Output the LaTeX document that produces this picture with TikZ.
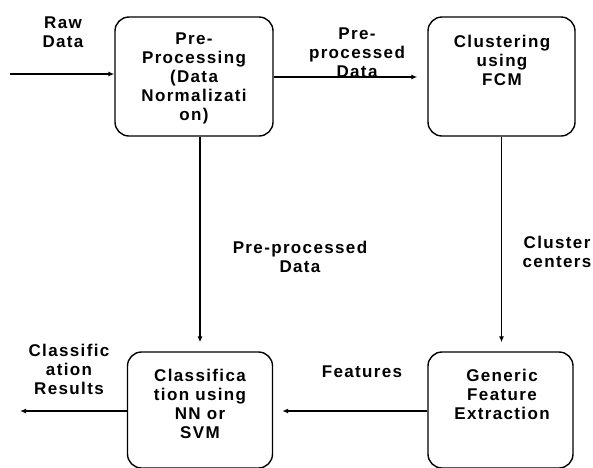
\documentclass[tikz,border=0pt]{standalone}
\usepackage{fontspec}
\setmainfont{Liberation Sans}[LetterSpace=8]
\usetikzlibrary{arrows.meta}
\begin{document}
\begin{tikzpicture}[x=1pt,y=-1pt,
  box/.style={draw,line width=1.4pt,rounded corners=14pt,inner sep=0pt},
  txt/.style={align=center,font=\fontsize{17}{19}\selectfont\bfseries,inner sep=0pt},
  conn/.style={line width=1.2pt,-{Latex[length=6pt,width=5pt]}}]
\useasboundingbox (0,0) rectangle (593,467);
% boxes
\node[box,minimum width=158pt,minimum height=119pt] (b1) at (194,76.5) {};
\node[box,minimum width=147pt,minimum height=119pt] (b2) at (501.5,76.5) {};
\node[box,minimum width=145pt,minimum height=116pt] (b3) at (200,410) {};
\node[box,minimum width=145pt,minimum height=116pt] (b4) at (500.5,410) {};
% box texts
\node[txt] (t1) at (194,78) {Pre-\\Processing\\(Data\\Normalizati\\on)};
\node[txt] (t2) at (502,60) {Clustering\\using\\FCM};
\node[txt] (t3) at (200,403.5) {Classifica\\tion using\\NN or\\SVM};
\node[txt] (t4) at (502,394.5) {Generic\\Feature\\Extraction};
% free ends
\coordinate (in) at (10,74);
\coordinate (out) at (20,411);
% connectors
\draw[conn] (in) -- (in -| b1.west);
\draw[conn,shorten >=10pt] (b1.east |- 0,77) -- (b2.west |- 0,77);
\draw[conn,shorten >=9pt] (b1.south -| b3.north) -- (b3.north);
\draw[conn,shorten >=9pt] (b2.south) -- (b2.south |- b4.north);
\draw[conn,shorten >=9pt] (b4.west |- 0,411) -- (b3.east |- 0,411);
\draw[conn] (b3.west |- 0,411) -- (out);
% labels
\node[txt] (l1) at (63,32) {Raw\\Data};
\node[txt] (l2) at (357,53) {Pre-\\processed\\Data};
\node[txt] (l3) at (300,256.5) {Pre-processed\\Data};
\node[txt] (l4) at (557,252) {Cluster\\centers};
\node[txt] (l5) at (69,369) {Classific\\ation\\Results};
\node[txt] (l6) at (362,372) {Features};
\end{tikzpicture}
\end{document}
